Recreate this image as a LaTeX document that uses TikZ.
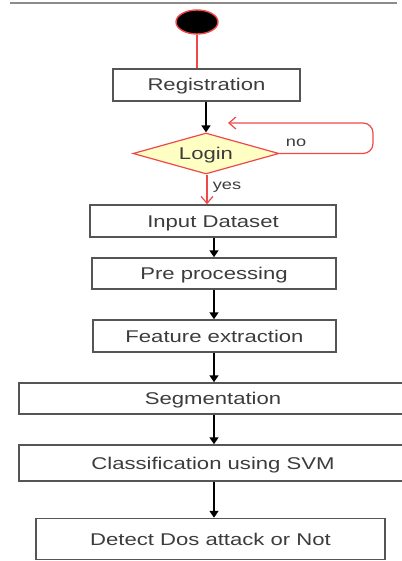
\documentclass[tikz,border=0pt]{standalone}
\usepackage{fontspec}
\setmainfont{Liberation Sans}[FakeStretch=1.3]
\usetikzlibrary{shapes.geometric,arrows.meta}
\definecolor{txt}{HTML}{3C3C3C}
\definecolor{bord}{HTML}{555555}
\definecolor{lred}{HTML}{F04848}
\definecolor{dfill}{HTML}{FFFFC4}
\tikzset{
  stepbox/.style={draw=bord,line width=1.5pt,fill=white,inner sep=0pt,text=txt,font=\fontsize{17}{20}\selectfont,text height=12pt,text depth=0pt},
  blk/.style={draw=black,line width=1.6pt,-{Triangle[length=7pt,width=9pt]}},
  redl/.style={draw=lred,line width=1.2pt},
  reda/.style={redl,-{Straight Barb[length=7pt,width=12pt,line width=1.2pt]}},
  lbl/.style={text=txt,font=\fontsize{14}{16}\selectfont,inner sep=0pt}
}
\begin{document}
\begin{tikzpicture}[x=1pt,y=-1pt]
\useasboundingbox (0,0) rectangle (401,561);
\draw[gray!90,line width=2pt] (10,3) -- (397,3);
\node[ellipse,draw=lred,fill=black,line width=1.4pt,minimum width=42pt,minimum height=24pt,inner sep=0pt] (start) at (197,22) {};
\node[stepbox,minimum width=187pt,minimum height=32pt] (reg) at (206.5,85) {Registration};
\node[diamond,shape aspect=3.56,draw=lred,fill=dfill,line width=1.2pt,minimum width=146pt,minimum height=41pt,inner sep=0pt,text=txt,font=\fontsize{17}{20}\selectfont,text height=12pt,text depth=0pt] (login) at (206,153.5) {Login};
\node[stepbox,minimum width=246pt,minimum height=32pt] (input) at (213,221) {Input Dataset};
\node[stepbox,minimum width=244pt,minimum height=31pt] (pre) at (214,273.5) {Pre processing};
\node[stepbox,minimum width=243pt,minimum height=32pt] (feat) at (214.5,336) {Feature extraction};
\node[stepbox,minimum width=388pt,minimum height=31pt] (seg) at (213,398.5) {Segmentation};
\node[stepbox,minimum width=388pt,minimum height=36pt] (cls) at (213,463) {Classification using SVM};
\node[stepbox,minimum width=349pt,minimum height=41pt] (det) at (210.5,539) {Detect Dos attack or Not};
\coordinate (loopcorner) at (373,123);
\coordinate (looptip) at (228,123);
\node[lbl] (nolbl) at (296,143) {no};
\node[lbl] (yeslbl) at (227,187) {yes};
\draw[redl] (start.south) -- (start.south |- reg.north);
\draw[blk] (reg.south -| login.north) -- (login.north);
\draw[reda,rounded corners=10pt] (login.east) -| (loopcorner) -- (looptip);
\draw[reda] (login.south -| 207,0) -- (input.north -| 207,0);
\draw[blk] (input.south -| 214,0) -- (pre.north -| 214,0);
\draw[blk] (pre.south -| 214,0) -- (feat.north -| 214,0);
\draw[blk] (feat.south -| 214,0) -- (seg.north -| 214,0);
\draw[blk] (seg.south -| 214,0) -- (cls.north -| 214,0);
\draw[blk] (cls.south -| 214,0) -- (det.north -| 214,0);
\end{tikzpicture}
\end{document}
